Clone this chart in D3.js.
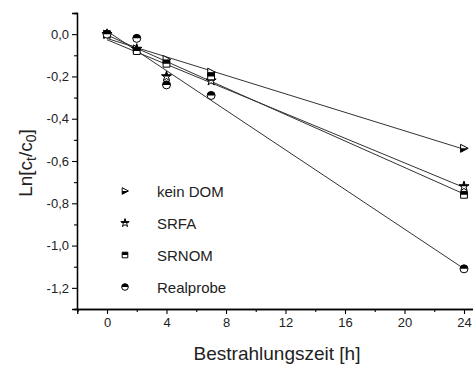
<!DOCTYPE html>
<html><head><meta charset="utf-8">
<script src="https://cdn.jsdelivr.net/npm/d3@7"></script>
<style>body{margin:0;background:#fff}svg{display:block}text{font-family:"Liberation Sans",Arial,sans-serif}</style>
</head><body>
<svg id="c" width="473" height="365"></svg>
<script>
const times = [0, 2, 4, 7, 24];
const keinDOM = [0, -0.07, -0.12, -0.18, -0.54];
const SRFA = [0, -0.07, -0.20, -0.22, -0.72];
const SRNOM = [0, -0.08, -0.14, -0.20, -0.76];
const Realprobe = [0, -0.02, -0.24, -0.29, -1.11];
const seriesNames = ["kein DOM", "SRFA", "SRNOM", "Realprobe"];
const seriesShapes = ["triangle", "star", "square", "circle"];
const xTicks = [0, 4, 8, 12, 16, 20, 24];
const yTicks = [0, -0.2, -0.4, -0.6, -0.8, -1.0, -1.2];

const series = [keinDOM, SRFA, SRNOM, Realprobe];
const svg = d3.select("#c");
const x = d3.scaleLinear().domain([-2, 26]).range([77.25, 493.75]);
const y = d3.scaleLinear().domain([0.1, -1.3]).range([13, 309]);
const fmt = d => d3.format(".1f")(d).replace(".", ",").replace("−", "-");

// axes
const gx = svg.append("g").attr("transform", "translate(0,309)");
gx.call(d3.axisBottom(x).tickValues(xTicks).tickSize(5).tickPadding(4).tickFormat(d3.format("d")));
gx.append("g").call(d3.axisBottom(x).tickValues(d3.range(-2, 27, 2).filter(v => v % 4 !== 0)).tickSize(3).tickFormat(""));
const gy = svg.append("g").attr("transform", "translate(77,0)");
gy.call(d3.axisLeft(y).tickValues(yTicks).tickSize(5).tickPadding(3).tickFormat(fmt));
gy.append("g").call(d3.axisLeft(y).tickValues([0.1, -0.1, -0.3, -0.5, -0.7, -0.9, -1.1, -1.3]).tickSize(3).tickFormat(""));
svg.selectAll(".domain").attr("stroke", "#000").attr("stroke-width", 1.3);
svg.selectAll(".tick line").attr("stroke", "#000").attr("stroke-width", 1.1);
svg.selectAll(".tick text").attr("font-size", 13).attr("fill", "#222").attr("font-family", "Liberation Sans, Arial, sans-serif");

// fit lines
function fit(xs, ys) {
  const mx = d3.mean(xs), my = d3.mean(ys);
  let sxy = 0, sxx = 0;
  xs.forEach((v, i) => { sxy += (v - mx) * (ys[i] - my); sxx += (v - mx) * (v - mx); });
  const b = sxy / sxx; return [b, my - b * mx];
}
series.forEach(s => {
  const [b, a] = fit(times, s);
  svg.append("line").attr("x1", x(0)).attr("y1", y(a)).attr("x2", x(24)).attr("y2", y(a + b * 24))
    .attr("stroke", "#333").attr("stroke-width", 1);
});

// markers
let clipId = 0;
function marker(g, shape, cx, cy, r) {
  const id = "clip" + (clipId++);
  let path;
  if (shape === "circle") path = d3.symbol(d3.symbolCircle, Math.PI * r * r)();
  else if (shape === "square") path = d3.symbol(d3.symbolSquare, (2 * r * 0.85) ** 2)();
  else if (shape === "star") path = d3.symbol(d3.symbolStar, r * r * 2.0)();
  else path = `M${-r * 0.85},${-r}L${r * 1.05},0L${-r * 0.85},${r}Z`;
  const gg = g.append("g").attr("transform", `translate(${cx},${cy})`);
  const clipRect = shape === "triangle" ? [-r * 2, 0, r * 4, r * 2] : [-r * 2, -r * 2, r * 4, r * 2];
  gg.append("clipPath").attr("id", id).append("rect")
    .attr("x", clipRect[0]).attr("y", clipRect[1]).attr("width", clipRect[2]).attr("height", clipRect[3]);
  gg.append("path").attr("d", path).attr("fill", "#fff").attr("stroke", "none");
  gg.append("path").attr("d", path).attr("fill", "#000").attr("clip-path", `url(#${id})`);
  gg.append("path").attr("d", path).attr("fill", "none").attr("stroke", "#000").attr("stroke-width", 1);
}
const mg = svg.append("g");
series.forEach((s, k) => {
  s.forEach((v, i) => marker(mg, seriesShapes[k], x(times[i]), y(v), 4));
});

// legend
const legY = d3.scaleLinear().domain([0, 3]).range([191, 287]);
seriesNames.forEach((n, k) => {
  marker(svg, seriesShapes[k], 125, legY(k), 3.3);
  svg.append("text").attr("x", 157).attr("y", legY(k) + 5.5).attr("font-size", 15).attr("fill", "#222").text(n);
});

// titles
svg.append("text").attr("x", 277).attr("y", 360).attr("text-anchor", "middle").attr("font-size", 19).attr("fill", "#222").text("Bestrahlungszeit [h]");
const yt = svg.append("text").attr("transform", "translate(32,163) rotate(-90)").attr("text-anchor", "middle").attr("font-size", 19).attr("fill", "#222");
yt.append("tspan").text("Ln[c");
yt.append("tspan").attr("font-size", 14).attr("dy", 4).text("t");
yt.append("tspan").attr("dy", -4).text("/c");
yt.append("tspan").attr("font-size", 14).attr("dy", 4).text("0");
yt.append("tspan").attr("dy", -4).text("]");
</script>
</body></html>
